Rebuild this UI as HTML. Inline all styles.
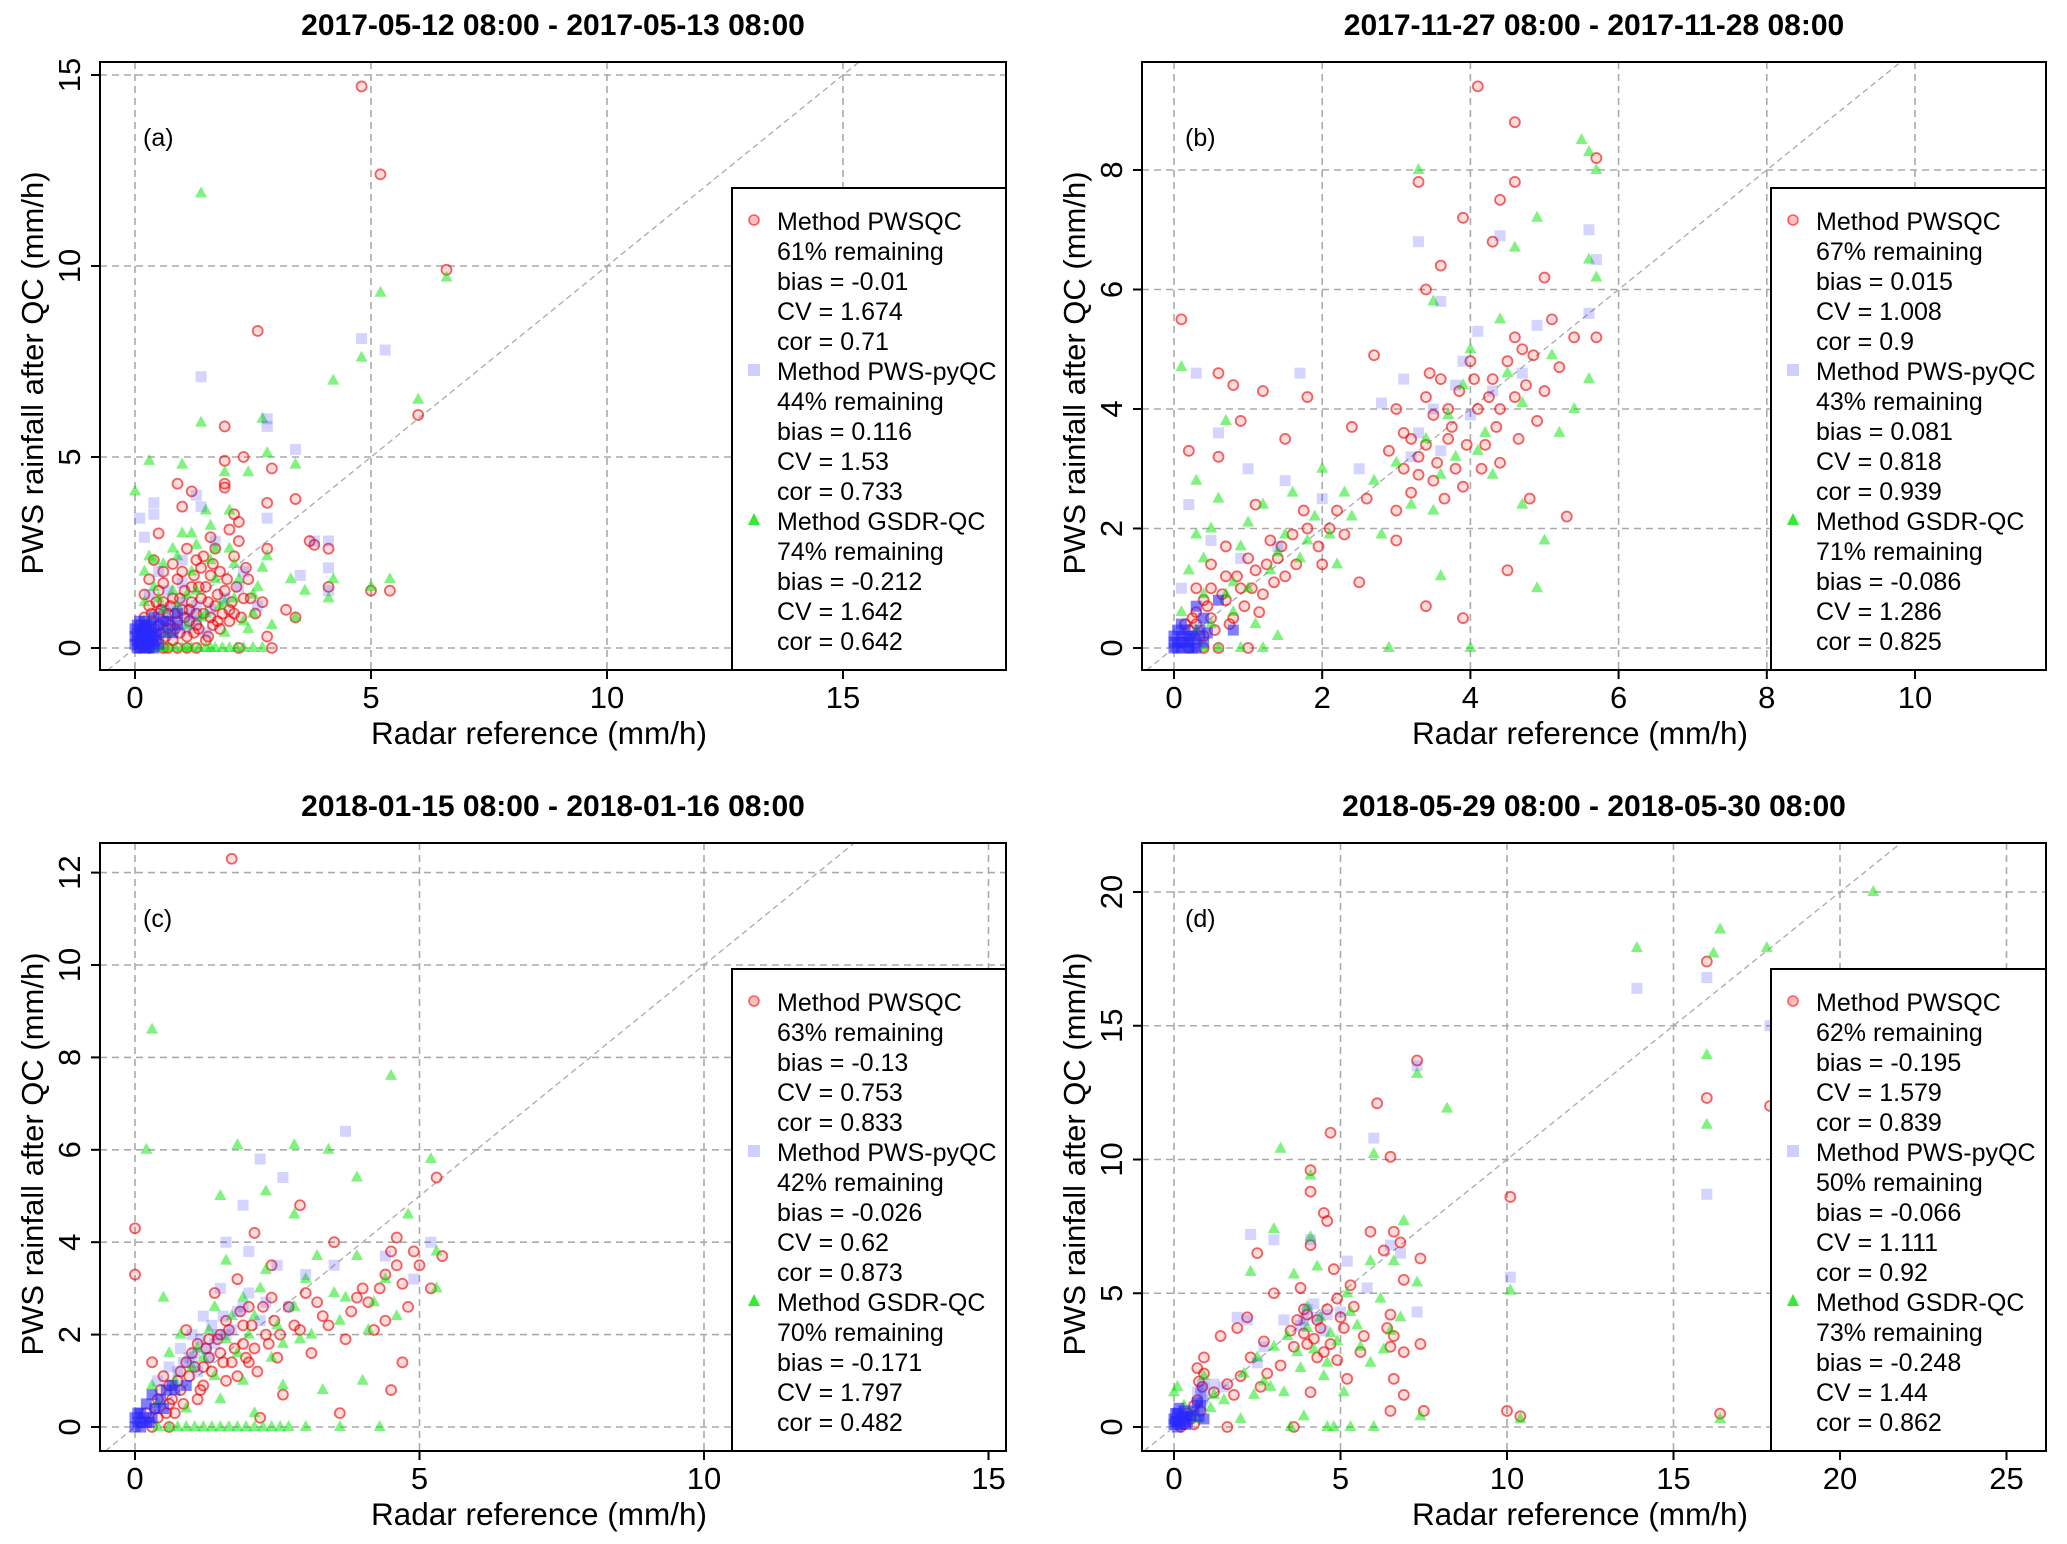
<!DOCTYPE html>
<html><head><meta charset="utf-8">
<style>
html,body{margin:0;padding:0;background:#fff;}
svg{display:block;font-family:"Liberation Sans",Arial,sans-serif;}
</style></head>
<body>
<svg id="fig" width="2067" height="1544" viewBox="0 0 2067 1544" xmlns="http://www.w3.org/2000/svg"></svg>
<script>
// ---------- data (x = radar reference, y = PWS rainfall after QC) ----------
const titlesA = "2017-05-12 08:00 - 2017-05-13 08:00";
const titlesB = "2017-11-27 08:00 - 2017-11-28 08:00";
const titlesC = "2018-01-15 08:00 - 2018-01-16 08:00";
const titlesD = "2018-05-29 08:00 - 2018-05-30 08:00";

const xTicksA = [0,5,10,15];  const yTicksA = [0,5,10,15];
const xTicksB = [0,2,4,6,8,10]; const yTicksB = [0,2,4,6,8];
const xTicksC = [0,5,10,15];  const yTicksC = [0,2,4,6,8,10,12];
const xTicksD = [0,5,10,15,20,25]; const yTicksD = [0,5,10,15,20];

const legendA = ["Method PWSQC","61% remaining","bias = -0.01","CV = 1.674","cor = 0.71","Method PWS-pyQC","44% remaining","bias = 0.116","CV = 1.53","cor = 0.733","Method GSDR-QC","74% remaining","bias = -0.212","CV = 1.642","cor = 0.642"];
const legendB = ["Method PWSQC","67% remaining","bias = 0.015","CV = 1.008","cor = 0.9","Method PWS-pyQC","43% remaining","bias = 0.081","CV = 0.818","cor = 0.939","Method GSDR-QC","71% remaining","bias = -0.086","CV = 1.286","cor = 0.825"];
const legendC = ["Method PWSQC","63% remaining","bias = -0.13","CV = 0.753","cor = 0.833","Method PWS-pyQC","42% remaining","bias = -0.026","CV = 0.62","cor = 0.873","Method GSDR-QC","70% remaining","bias = -0.171","CV = 1.797","cor = 0.482"];
const legendD = ["Method PWSQC","62% remaining","bias = -0.195","CV = 1.579","cor = 0.839","Method PWS-pyQC","50% remaining","bias = -0.066","CV = 1.111","cor = 0.92","Method GSDR-QC","73% remaining","bias = -0.248","CV = 1.44","cor = 0.862"];

const redA = [4.8,14.7, 5.2,12.4, 6.6,9.9, 2.6,8.3, 6.0,6.1, 1.9,5.8, 2.3,5.0, 1.9,4.9, 2.9,4.7, 1.9,4.3, 1.9,4.2, 0.9,4.3, 1.2,4.1, 3.4,3.9, 2.8,3.8, 1.0,3.7, 2.1,3.5, 2.2,3.3, 0.5,3.0, 3.7,2.8, 3.8,2.7, 4.1,2.6, 2.8,2.6, 1.1,2.6, 2.1,2.4, 5.4,1.5, 5.0,1.5, 4.1,1.6, 3.4,0.8, 2.8,0.3, 2.9,0, 1.6,2.9, 0.8,2.2, 0.4,2.3, 0.3,1.8, 1.5,1.6, 2.3,1.3, 2.7,1.2, 0.6,1.2, 1.0,1.0, 0.2,0.8, 0.7,0.5, 1.3,0.6, 0.4,0.3, 2.0,0.7, 0.5,1.5, 0.9,1.8, 1.8,2.0, 3.2,1.0, 0.1,0.0, 0.3,0.0, 0.6,0.0, 1.5,0.2, 2.2,0.0,
 0.2,0.2, 0.4,0.1, 0.5,0.6, 0.7,0.9, 0.8,0.2, 0.9,0.7, 1.1,0.3, 1.2,1.2, 1.3,0.9, 1.4,1.3, 1.6,0.8, 1.7,1.1, 1.8,0.5, 2.0,1.0, 0.3,1.1, 0.6,1.7, 0.8,1.3, 1.0,2.0, 1.2,1.6, 1.4,2.1, 1.6,1.9, 1.9,1.5, 2.1,0.9, 2.4,1.8, 0.2,1.4, 0.5,0.9, 0.7,0.0, 0.9,0.0, 1.1,0.0, 1.3,0.0, 0.4,0.5, 0.1,0.6,
 0.3,0.3, 0.35,0.7, 0.45,1.2, 0.55,0.4, 0.65,0.7, 0.75,1.1, 0.85,0.5, 0.95,1.3, 1.05,0.8, 1.15,1.0, 1.25,0.4, 1.35,1.6, 1.45,0.9, 1.55,1.2, 1.65,0.6, 1.75,1.4, 1.85,0.9, 1.95,1.8, 2.05,1.2, 2.15,1.6, 2.25,0.8, 2.35,2.1, 2.45,1.3, 2.55,0.9, 0.25,0.5, 0.35,0.9, 0.45,0.2, 0.55,1.0, 0.65,0.3, 0.75,0.6, 0.85,0.9, 0.95,0.4, 1.05,1.5, 1.15,0.7, 1.25,1.9, 1.35,0.5, 1.45,2.4, 1.55,0.3, 1.65,2.2, 1.75,0.7, 2.2,2.8, 2.0,3.1, 1.7,2.6, 1.3,2.3, 0.6,2.0];
const blueA = [5.3,7.8, 4.8,8.1, 1.4,7.1, 2.8,6.0, 2.8,5.8, 3.4,5.2, 1.3,4.0, 0.4,3.8, 0.1,3.4, 0.4,3.5, 1.4,3.7, 2.8,3.4, 3.8,2.8, 4.1,2.8, 4.1,2.1, 3.5,1.9, 4.1,1.5, 1.0,2.3, 0.5,2.0, 1.7,2.8, 2.3,2.0, 0.2,2.9, 0.3,1.4, 0.6,1.0, 0.9,0.6, 1.3,1.1, 0.2,0.6, 0.1,0.4, 0.05,0.2, 0.15,0.1, 0.25,0.3, 0.3,0.5, 0.35,0.2, 0.05,0.6, 0.1,0.0, 0.2,0.0, 0.0,0.1, 0.4,0.8, 0.6,0.4, 0.8,1.0, 1.1,0.8, 1.5,0.4,
 0.0,0.3, 0.1,0.2, 0.2,0.4, 0.3,0.1, 0.15,0.5, 0.25,0.0, 0.05,0.0, 0.35,0.4, 0.4,0.0, 0.2,0.2, 0.1,0.7, 0.3,0.3, 0.5,0.6, 0.7,0.7, 0.9,0.9, 1.1,0.5, 1.3,0.7, 0.45,0.35,
 0.0,0.5, 0.05,0.35, 0.15,0.3, 0.25,0.6, 0.35,0.55, 0.2,0.7, 0.1,0.1, 0.3,0.0, 0.4,0.2, 0.5,0.1, 0.6,0.7, 0.8,0.4, 1.0,1.2, 1.2,0.9, 1.6,1.0, 1.9,1.3, 2.2,1.6, 2.6,1.1, 0.7,1.5, 1.0,1.7];
const greenA = [1.4,11.9, 5.2,9.3, 6.6,9.7, 4.8,7.6, 4.2,7.0, 6.0,6.5, 1.4,5.9, 2.7,6.0, 0.3,4.9, 1.0,4.8, 2.4,4.6, 2.8,5.1, 3.4,4.8, 0.0,4.1, 1.9,4.6, 2.0,3.6, 1.5,3.6, 1.0,3.0, 0.3,2.4, 1.7,2.6, 2.8,2.4, 3.3,1.8, 3.6,1.5, 4.2,1.8, 5.0,1.6, 5.4,1.8, 3.4,0.8, 4.1,1.3, 2.9,0.6, 2.5,0.9, 0.5,0.0, 1.0,0.0, 1.5,0.0, 2.0,0.0, 2.7,0.0, 0.8,1.5, 1.2,2.0, 2.1,1.3, 2.6,1.6, 0.6,1.0, 1.4,0.8, 1.9,0.4, 0.2,1.2, 0.1,0.5,
 0.3,0.0, 0.7,0.0, 1.2,0.0, 1.7,0.0, 2.3,0.0, 2.5,0.0, 0.4,1.6, 0.9,2.4, 1.3,2.7, 1.6,2.3, 2.2,1.8, 0.6,2.2, 1.1,1.4, 1.8,1.1, 2.4,0.5, 0.2,2.0,
 0.15,0.0, 0.4,0.0, 0.6,0.0, 0.85,0.0, 1.1,0.0, 1.35,0.0, 1.6,0.0, 1.85,0.0, 2.15,0.0, 0.3,0.7, 0.5,1.3, 0.7,0.4, 0.9,1.1, 1.1,0.6, 1.3,1.5, 1.5,0.9, 1.7,1.8, 1.9,1.2, 2.1,2.2, 2.3,0.7, 2.5,1.4, 2.7,2.1, 0.4,2.3, 0.8,2.6, 1.2,3.0, 1.6,3.2, 2.0,2.6];

const redB = [4.1,9.4, 4.6,8.8, 5.7,8.2, 3.3,7.8, 4.4,7.5, 4.6,7.8, 3.6,6.4, 5.0,6.2, 3.9,7.2, 4.3,6.8, 0.1,5.5, 3.4,6.0, 5.1,5.5, 5.7,5.2, 4.6,5.2, 2.7,4.9, 1.2,4.3, 0.6,4.6, 0.8,4.4, 1.8,4.2, 0.9,3.8, 0.6,3.2, 0.2,3.3, 1.5,3.5, 2.4,3.7, 3.0,4.0, 3.4,4.2, 3.7,3.5, 4.1,4.0, 4.6,4.2, 4.9,3.8, 3.1,3.0, 3.5,2.8, 3.9,2.7, 4.4,3.1, 4.8,2.5, 5.3,2.2, 2.6,2.5, 2.2,2.3, 1.8,2.0, 1.3,1.8, 1.0,1.5, 0.7,1.2, 0.5,1.0, 0.3,0.6, 0.2,0.3, 0.1,0.1, 0.4,0.2, 0.8,0.5, 1.2,0.9, 1.5,1.2, 2.0,1.4, 2.5,1.1, 3.4,0.7, 3.9,0.5, 4.5,1.3, 0.6,0.0, 1.0,0.0, 0.4,0.8, 1.1,2.4, 3.2,3.5, 3.6,4.5, 4.3,4.5, 3.0,1.8,
 0.3,0.4, 0.5,0.5, 0.7,0.8, 0.9,1.0, 1.1,1.3, 1.4,1.5, 1.6,1.9, 3.3,3.2, 3.5,3.9, 3.8,3.0, 4.0,4.8, 4.2,3.4, 4.4,4.0, 4.7,5.0, 3.2,2.6, 2.9,3.3, 0.2,0.0, 0.4,0.0,
 0.25,0.5, 0.35,0.2, 0.45,0.7, 0.55,0.3, 0.65,0.9, 0.75,0.4, 0.85,1.2, 0.95,0.7, 1.05,1.0, 1.15,0.6, 1.25,1.4, 1.35,1.1, 1.45,1.7, 1.65,1.4, 1.75,2.3, 1.95,1.7, 2.1,2.0, 2.3,1.9, 0.15,0.4, 0.3,1.0, 0.5,1.4, 0.7,1.7, 3.0,2.3, 3.1,3.6, 3.3,2.9, 3.4,3.4, 3.45,4.6, 3.55,3.1, 3.65,2.5, 3.7,4.0, 3.75,3.7, 3.85,4.3, 3.95,3.4, 4.05,4.5, 4.15,3.0, 4.25,4.2, 4.35,3.7, 4.5,4.8, 4.65,3.5, 4.75,4.4, 4.85,4.9, 5.0,4.3, 5.2,4.7, 5.4,5.2];
const blueB = [5.6,7.0, 5.7,6.5, 3.3,6.8, 4.4,6.9, 3.6,5.8, 4.1,5.3, 4.9,5.4, 5.6,5.6, 3.1,4.5, 3.8,4.4, 2.8,4.1, 1.7,4.6, 0.3,4.6, 0.6,3.6, 1.0,3.0, 1.5,2.8, 2.0,2.5, 2.5,3.0, 3.3,3.6, 4.0,3.9, 0.2,2.4, 0.5,1.8, 0.9,1.5, 1.4,1.7, 0.1,1.0, 0.3,0.7, 0.05,0.3, 0.15,0.1, 0.25,0.2, 0.35,0.3, 0.0,0.0, 0.2,0.0, 0.1,0.4, 0.4,0.5, 0.6,0.8, 0.8,0.3,
 0.0,0.2, 0.1,0.2, 0.2,0.1, 0.3,0.0, 0.05,0.1, 0.15,0.3, 0.25,0.0, 0.1,0.0,
 0.0,0.1, 0.05,0.0, 0.2,0.2, 0.3,0.15, 0.4,0.1, 0.45,0.25, 3.5,4.0, 3.9,4.8, 4.3,4.3, 4.7,4.6, 3.2,3.2, 3.6,3.3];
const greenB = [5.5,8.5, 5.6,8.3, 5.7,8.0, 3.3,8.0, 0.1,4.7, 5.6,6.5, 5.7,6.2, 4.6,6.7, 4.9,7.2, 3.5,5.8, 4.0,5.0, 4.5,4.6, 5.6,4.5, 5.2,3.6, 4.7,2.4, 5.0,1.8, 4.9,1.0, 3.6,1.2, 2.9,0.0, 4.0,0.0, 3.5,2.3, 2.7,2.8, 2.3,2.6, 1.9,2.2, 1.5,1.9, 1.2,2.4, 0.7,3.8, 0.3,2.8, 0.5,2.0, 0.9,1.7, 1.3,1.3, 1.7,1.5, 2.2,1.4, 2.8,1.9, 3.2,2.4, 0.2,1.3, 0.4,0.9, 0.8,0.6, 1.1,0.4, 0.6,0.0, 1.4,0.2, 0.3,0.3, 0.1,0.6, 2.0,3.0, 3.8,3.2, 4.2,3.6, 5.4,4.0, 4.4,5.5,
 1.0,2.1, 1.6,2.6, 2.1,1.9, 0.8,1.1, 0.4,1.5, 3.0,3.1, 3.7,3.9, 4.3,2.9,
 0.2,0.0, 0.4,0.0, 0.9,0.0, 1.2,0.0, 0.5,0.4, 0.7,0.9, 1.0,1.0, 1.4,1.6, 1.8,1.8, 2.4,2.2, 3.4,3.5, 3.6,2.9, 3.9,4.4, 4.1,3.3, 4.7,4.1, 5.1,4.9, 0.3,1.9, 0.6,2.5];

const redC = [1.7,12.3, 0.0,4.3, 0.0,3.3, 2.9,4.8, 2.1,4.2, 3.5,4.0, 4.6,4.1, 4.9,3.8, 5.3,5.4, 5.4,3.7, 4.4,3.3, 3.9,2.8, 3.3,2.4, 2.8,2.2, 2.3,2.0, 2.0,2.6, 1.6,2.3, 1.3,1.9, 1.0,1.6, 0.8,1.2, 0.6,0.9, 0.4,0.6, 0.2,0.3, 0.1,0.1, 1.2,1.3, 1.5,1.6, 1.9,1.8, 2.5,1.5, 3.1,1.6, 3.7,1.9, 4.2,2.1, 4.7,1.4, 4.5,0.8, 3.6,0.3, 2.6,0.7, 2.2,0.2, 1.8,1.1, 1.1,0.6, 0.7,0.3, 0.5,1.1, 0.3,1.4, 0.9,2.1, 1.4,2.9, 1.8,3.2, 2.4,3.5, 3.0,2.9, 4.0,3.0, 4.8,2.6, 4.6,3.5, 1.6,1.0, 2.0,1.4, 2.4,2.8,
 0.9,1.4, 1.1,1.8, 1.3,1.5, 1.5,2.0, 1.7,1.4, 1.9,2.2, 2.1,1.7, 1.2,0.9, 0.8,0.8, 0.6,0.5, 0.4,0.2, 0.3,0.0, 0.6,0.0,
 0.35,0.4, 0.45,0.8, 0.55,0.3, 0.65,0.6, 0.75,1.0, 0.85,0.5, 0.95,1.1, 1.05,1.3, 1.15,0.8, 1.25,1.7, 1.35,1.2, 1.45,1.9, 1.55,1.4, 1.65,2.1, 1.75,1.7, 1.85,2.5, 1.95,1.5, 2.05,2.2, 2.15,1.2, 2.25,2.6, 2.35,1.8, 2.45,2.3, 2.55,2.0, 2.7,2.6, 2.9,2.1, 3.2,2.7, 3.4,2.2, 3.8,2.5, 4.1,2.7, 4.3,3.0, 4.4,2.3, 4.5,3.8, 4.7,3.1, 5.0,3.5, 5.2,3.0];
const blueC = [3.7,6.4, 2.2,5.8, 2.6,5.4, 1.9,4.8, 1.6,4.0, 2.0,3.8, 2.5,3.5, 3.0,3.3, 3.5,3.5, 4.4,3.7, 5.2,4.0, 4.9,3.2, 1.5,3.0, 1.2,2.4, 1.0,2.0, 0.8,1.7, 0.6,1.3, 0.4,1.0, 0.3,0.7, 0.2,0.5, 0.1,0.3, 0.05,0.1, 0.15,0.2, 0.25,0.1, 1.3,1.5, 1.6,2.0, 1.8,2.5, 2.2,2.3, 2.7,2.6, 0.5,0.4, 0.9,0.9, 1.1,1.2, 0.0,0.0, 0.3,0.2,
 0.0,0.2, 0.1,0.0, 0.2,0.1, 0.05,0.3, 0.35,0.4, 0.7,0.8, 1.0,1.4, 1.4,1.8,
 0.45,0.6, 0.55,0.8, 0.65,0.9, 0.75,1.2, 0.85,1.4, 0.95,1.5, 1.05,1.6, 1.15,1.9, 1.25,1.7, 1.35,2.2, 1.45,2.0, 1.55,2.4, 1.7,2.1, 1.9,2.6, 2.0,2.9, 2.3,2.7];
const greenC = [0.3,8.6, 4.5,7.6, 1.8,6.1, 2.8,6.1, 0.2,6.0, 3.4,6.0, 3.9,5.4, 1.5,5.0, 2.3,5.1, 5.2,5.8, 2.8,4.6, 4.8,4.6, 3.2,3.7, 3.9,3.7, 5.3,3.8, 5.3,3.0, 4.6,2.4, 4.2,2.7, 3.6,2.3, 2.9,1.9, 2.4,1.5, 2.0,2.0, 1.7,2.4, 1.3,2.1, 0.5,2.8, 0.8,2.0, 1.0,1.3, 1.4,1.1, 1.9,1.0, 2.6,0.9, 3.3,0.8, 4.0,1.0, 0.6,0.0, 1.2,0.0, 1.8,0.0, 2.4,0.0, 3.0,0.0, 3.6,0.0, 4.3,0.0, 0.9,0.4, 1.5,0.6, 2.1,0.3, 0.3,0.9, 0.7,1.0, 1.6,3.6, 2.2,3.0, 2.8,2.6, 3.5,2.9,
 0.9,0.0, 1.5,0.0, 2.1,0.0, 2.7,0.0, 1.1,1.7, 1.8,1.6, 2.5,2.2, 3.1,2.0,
 0.4,0.0, 0.75,0.0, 1.05,0.0, 1.35,0.0, 1.65,0.0, 1.95,0.0, 2.25,0.0, 2.55,0.0, 1.2,1.5, 1.4,2.6, 1.6,1.9, 1.9,2.8, 2.1,2.4, 2.3,3.4, 2.6,1.8, 3.0,3.2, 3.7,2.8, 4.1,2.1, 4.4,3.2, 0.6,1.6, 0.4,0.5];

const redD = [7.3,13.7, 6.1,12.1, 16.0,17.4, 16.0,12.3, 17.9,12.0, 4.7,11.0, 6.5,10.1, 10.1,8.6, 4.1,9.6, 4.1,8.8, 4.5,8.0, 4.6,7.7, 4.1,6.8, 5.9,7.3, 6.6,7.3, 6.3,6.6, 6.8,6.9, 7.4,6.3, 2.5,6.5, 4.8,5.9, 5.3,5.3, 6.9,5.5, 3.8,5.2, 3.0,5.0, 2.2,4.1, 1.9,3.7, 1.4,3.4, 0.9,2.6, 0.7,2.2, 2.7,3.2, 3.5,3.6, 4.0,3.1, 4.5,2.8, 5.1,3.7, 5.7,3.4, 6.5,3.0, 6.9,2.8, 7.4,3.1, 6.6,1.8, 6.9,1.2, 6.5,0.6, 7.5,0.6, 10.0,0.6, 10.4,0.4, 16.4,0.5, 5.2,1.8, 4.1,1.3, 3.6,0.0, 1.6,0.0, 2.6,1.5, 1.8,1.2, 0.5,0.3, 0.3,0.1, 0.7,1.0, 0.8,0.6, 4.3,4.0, 3.9,4.4, 4.9,4.8, 0.2,0.0, 0.6,0.1,
 3.6,3.0, 3.7,4.0, 3.9,3.5, 4.0,4.2, 4.2,3.3, 4.3,2.6, 4.4,3.7, 4.6,4.4, 4.7,3.1, 4.9,2.5, 5.0,4.1, 5.4,4.5, 5.6,2.8, 6.4,3.7, 6.5,4.2, 6.6,3.4, 3.2,2.3, 2.8,2.0, 2.3,2.6, 2.0,1.9, 1.6,1.6, 1.2,1.3, 0.85,1.5, 0.9,2.0, 0.75,1.7, 0.6,0.8, 0.4,0.5];
const blueD = [13.9,16.4, 16.0,16.8, 17.9,15.0, 16.0,8.7, 10.1,5.6, 6.0,10.8, 7.3,13.5, 2.3,7.2, 3.0,7.0, 4.1,7.0, 5.2,6.2, 6.5,6.8, 6.8,6.5, 4.2,4.6, 3.9,4.0, 4.6,4.2, 3.3,4.0, 2.2,4.0, 1.9,4.1, 2.7,3.0, 5.0,4.3, 5.8,5.2, 7.3,4.3, 1.2,1.6, 0.9,1.5, 0.8,1.2, 0.7,0.9, 0.6,0.6, 0.5,0.4, 0.3,0.3, 0.1,0.2, 0.05,0.5, 0.15,0.7, 0.2,0.1, 0.4,0.2, 0.8,0.8, 0.85,1.0, 1.5,1.5, 2.5,2.4,
 0.0,0.3, 0.1,0.0, 0.25,0.4, 0.35,0.1, 0.75,0.4, 0.9,0.3, 0.7,1.3,
 0.0,0.1, 0.05,0.2, 0.1,0.5, 0.2,0.3, 0.3,0.6, 0.4,0.4, 0.8,1.4, 0.85,1.6, 0.9,1.1, 4.0,4.4, 4.3,4.1, 4.5,3.6, 3.8,3.8];
const greenD = [21.0,20.0, 16.4,18.6, 13.9,17.9, 17.8,17.9, 16.2,17.7, 16.0,13.9, 16.0,11.3, 7.3,13.2, 8.2,11.9, 3.2,10.4, 6.0,10.2, 4.1,9.4, 4.1,7.1, 3.0,7.4, 6.9,7.7, 10.1,5.1, 2.3,5.8, 3.6,5.7, 4.3,6.0, 5.2,5.0, 5.9,6.2, 6.6,6.2, 7.3,5.4, 6.8,4.1, 6.3,2.9, 5.9,2.4, 5.1,1.3, 4.5,1.9, 3.8,2.2, 3.0,3.0, 2.5,2.6, 2.1,2.0, 1.5,1.0, 1.1,0.7, 3.5,0.0, 4.8,0.0, 5.3,0.0, 6.0,0.0, 7.4,0.4, 10.4,0.3, 16.4,0.3, 0.1,1.5, 0.0,1.3, 2.7,1.7, 3.3,1.3, 4.7,3.5, 5.5,3.8, 0.9,1.9, 0.5,0.5, 4.0,4.5,
 3.4,3.4, 3.7,2.8, 4.0,3.7, 4.2,2.9, 4.4,4.1, 4.6,2.4, 4.9,3.2, 5.3,4.3, 5.6,3.0, 6.2,4.8, 6.5,3.6, 2.9,1.5, 2.4,1.2, 3.9,0.4, 4.6,0.0, 2.0,0.3, 1.2,1.2, 0.7,0.3, 0.3,0.8];

// ---------- drawing ----------
const NS = "http://www.w3.org/2000/svg";
const svg = document.getElementById('fig');
function mk(tag, attrs, parent){ const e=document.createElementNS(NS,tag); for(const k in attrs) e.setAttribute(k,attrs[k]); (parent||svg).appendChild(e); return e; }

function panel(cfg){
  const g = mk('g',{});
  
  
  const L=cfg.box[0], T=cfg.box[1], R=cfg.box[2], B=cfg.box[3];
  const sx = v => cfg.x0 + v*cfg.xu;
  const sy = v => cfg.y0 - v*cfg.yu;
  const cx = (L+R)/2;
  const t = mk('text',{x:cx,y:cfg.titleY,'text-anchor':'middle','font-size':30,'font-weight':'bold'},g);
  t.textContent = cfg.title;
  
  
  cfg.xt.forEach(v=>{
    const l=mk('line',{x1:sx(v),x2:sx(v),y1:T,y2:B,stroke:'#aaa','stroke-width':1.6,'stroke-dasharray':'7,5'},g);
     
  });
  cfg.yt.forEach(v=>{
    const l=mk('line',{x1:L,x2:R,y1:sy(v),y2:sy(v),stroke:'#aaa','stroke-width':1.6,'stroke-dasharray':'7,5'},g);
     
  });
  const dmin = Math.max((L-cfg.x0)/cfg.xu, (cfg.y0-B)/cfg.yu);
  const dmax = Math.min((R-cfg.x0)/cfg.xu, (cfg.y0-T)/cfg.yu);
  const d = mk('line',{x1:sx(dmin),y1:sy(dmin),x2:sx(dmax),y2:sy(dmax),stroke:'#aaa','stroke-width':1.3,'stroke-dasharray':'6,4'},g);
   
  const cp = mk('clipPath',{id:'clip-'+cfg.id},g);
  mk('rect',{x:L,y:T,width:R-L,height:B-T},cp);
  const pg = mk('g',{'clip-path':'url(#clip-'+cfg.id+')'},g);
  for(let i=0;i<cfg.red.length;i+=2){
    const c=mk('circle',{cx:sx(cfg.red[i]),cy:sy(cfg.red[i+1]),r:5,fill:'rgba(255,0,0,0.14)',stroke:'rgba(230,0,0,0.6)','stroke-width':1.8},pg);
     
  }
  for(let i=0;i<cfg.green.length;i+=2){
    const x=sx(cfg.green[i]), y=sy(cfg.green[i+1]);
    const p=mk('polygon',{points:`${x},${y-7} ${x-6},${y+4} ${x+6},${y+4}`,fill:'rgba(0,230,0,0.5)'},pg);
     
  }
  for(let i=0;i<cfg.blue.length;i+=2){
    const x=sx(cfg.blue[i]), y=sy(cfg.blue[i+1]);
    const op = (cfg.blue[i]<1.0 && cfg.blue[i+1]<1.0) ? 0.6 : 0.2;
    const r=mk('rect',{x:x-5.5,y:y-5.5,width:11,height:11,fill:`rgba(40,40,255,${op})`},pg);
     
  }
  const bx=mk('rect',{x:L,y:T,width:R-L,height:B-T,fill:'none',stroke:'#000','stroke-width':2},g);
   
  cfg.xt.forEach(v=>{
    mk('line',{x1:sx(v),x2:sx(v),y1:B,y2:B+9,stroke:'#000','stroke-width':2},g);
    const tl=mk('text',{x:sx(v),y:B+38,'text-anchor':'middle','font-size':31},g);
    tl.textContent=v;
     
  });
  cfg.yt.forEach(v=>{
    mk('line',{x1:L-9,x2:L,y1:sy(v),y2:sy(v),stroke:'#000','stroke-width':2},g);
    const tx=L-20, ty=sy(v);
    const tl=mk('text',{x:tx,y:ty,'text-anchor':'middle','font-size':31,transform:`rotate(-90 ${tx} ${ty})`},g);
    tl.textContent=v;
     
  });
  const xl=mk('text',{x:cx-14,y:B+74,'text-anchor':'middle','font-size':31.5},g);
  xl.textContent='Radar reference (mm/h)';
   
  const yx=L-57, yy=(T+B)/2+7;
  const yl=mk('text',{x:yx,y:yy,'text-anchor':'middle','font-size':31,transform:`rotate(-90 ${yx} ${yy})`},g);
  yl.textContent='PWS rainfall after QC (mm/h)';
   
  const pl=mk('text',{x:L+43,y:T+84,'font-size':25},g);
  pl.textContent=cfg.letter;
   
  const lg=mk('g',{},g);
   
  const lx=L+(cfg.legX), ly=T+126;
  mk('rect',{x:lx,y:ly,width:R-lx,height:B-ly,fill:'#fff',stroke:'#000','stroke-width':2},lg);
  cfg.legend.forEach((s,i)=>{
    const te=mk('text',{x:lx+45,y:ly+42+i*30,'font-size':25},lg);
    te.textContent=s;
     
  });
  const sxl=lx+22;
  mk('circle',{cx:sxl,cy:ly+32,r:5,fill:'rgba(255,0,0,0.25)',stroke:'rgba(255,0,0,0.6)','stroke-width':1.6},lg);
  mk('rect',{x:sxl-6,y:ly+32+150-6,width:12,height:12,fill:'rgba(60,60,255,0.25)'},lg);
  mk('polygon',{points:`${sxl},${ly+32+300-7} ${sxl-6},${ly+32+300+5} ${sxl+6},${ly+32+300+5}`,fill:'rgba(0,230,0,0.8)'},lg);
}

panel({id:'panel-a',title:titlesA,titleY:35,box:[100,62,1006,670],x0:135,xu:47.2,y0:648,yu:38.2,xt:xTicksA,yt:yTicksA,red:redA,blue:blueA,green:greenA,legend:legendA,letter:'(a)',legX:632});
panel({id:'panel-b',title:titlesB,titleY:35,box:[1142,62,2046,670],x0:1174,xu:74.1,y0:648,yu:59.75,xt:xTicksB,yt:yTicksB,red:redB,blue:blueB,green:greenB,legend:legendB,letter:'(b)',legX:629});
panel({id:'panel-c',title:titlesC,titleY:816,box:[100,843,1006,1451],x0:135,xu:56.9,y0:1427,yu:46.2,xt:xTicksC,yt:yTicksC,red:redC,blue:blueC,green:greenC,legend:legendC,letter:'(c)',legX:632});
panel({id:'panel-d',title:titlesD,titleY:816,box:[1142,843,2046,1451],x0:1174,xu:33.3,y0:1427,yu:26.75,xt:xTicksD,yt:yTicksD,red:redD,blue:blueD,green:greenD,legend:legendD,letter:'(d)',legX:629});
</script>
</body></html>
